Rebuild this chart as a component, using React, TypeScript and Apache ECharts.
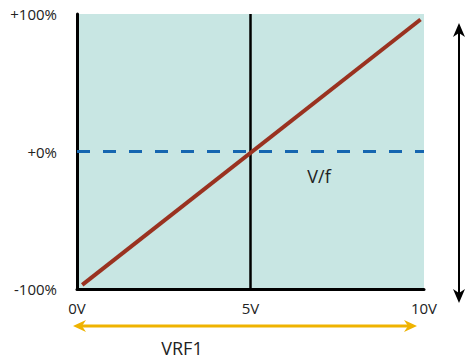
import React, { useEffect, useRef } from "react";
import * as echarts from "echarts";

const xTicks = [0, 5, 10];
const yTicks = [-100, 0, 100];
const vfLine: [number, number][] = [
  [0.15, -97],
  [9.9, 96],
];
const midVoltage = 5;
const baseline = 0;

const FONT = "'Open Sans', 'Noto Sans', sans-serif";

export default function App() {
  const ref = useRef<HTMLDivElement>(null);
  useEffect(() => {
    if (!ref.current) return;
    const chart = echarts.init(ref.current, null, { renderer: "svg" });
    chart.setOption({
      animation: false,
      grid: {
        left: 77,
        right: 43,
        top: 14,
        bottom: 72,
        show: true,
        backgroundColor: "#c8e6e3",
        borderWidth: 0,
      },
      xAxis: {
        type: "value",
        min: xTicks[0],
        max: xTicks[xTicks.length - 1],
        interval: 5,
        axisLine: { show: true, onZero: false, lineStyle: { color: "#000", width: 3 } },
        axisTick: { show: false },
        splitLine: { show: false },
        axisLabel: {
          margin: 11,
          fontSize: 15,
          fontFamily: FONT,
          color: "#222",
          formatter: (v: number) => `${v}V`,
        },
      },
      yAxis: {
        type: "value",
        min: yTicks[0],
        max: yTicks[yTicks.length - 1],
        interval: 100,
        axisLine: { show: true, onZero: false, lineStyle: { color: "#000", width: 3 } },
        axisTick: { show: false },
        splitLine: { show: false },
        axisLabel: {
          margin: 20,
          fontSize: 15,
          fontFamily: FONT,
          color: "#222",
          formatter: (v: number) => (v >= 0 ? `+${v}%` : `${v}%`),
        },
      },
      series: [
        {
          type: "line",
          data: vfLine,
          symbol: "none",
          lineStyle: { color: "#9a3220", width: 4 },
          z: 5,
          markLine: {
            silent: true,
            symbol: "none",
            label: { show: false },
            data: [
              {
                xAxis: midVoltage,
                lineStyle: { color: "#000", width: 2.5, type: "solid" },
              },
              {
                yAxis: baseline,
                lineStyle: { color: "#1566b0", width: 3, type: [13, 13] },
              },
            ],
          },
        },
      ],
      graphic: [
        {
          type: "text",
          x: 319,
          y: 176,
          style: {
            text: "V/f",
            fontSize: 18,
            fontFamily: FONT,
            fill: "#222",
            align: "center",
            verticalAlign: "middle",
          },
        },
        {
          type: "text",
          x: 182,
          y: 348,
          style: {
            text: "VRF1",
            fontSize: 18,
            fontFamily: FONT,
            fill: "#222",
            align: "center",
            verticalAlign: "middle",
          },
        },
        // yellow double arrow
        {
          type: "line",
          shape: { x1: 80, y1: 326, x2: 410, y2: 326 },
          style: { stroke: "#efb300", lineWidth: 3 },
        },
        {
          type: "polygon",
          shape: { points: [[73, 326], [86, 320], [82, 326], [86, 332]] },
          style: { fill: "#efb300" },
        },
        {
          type: "polygon",
          shape: { points: [[417, 326], [404, 320], [408, 326], [404, 332]] },
          style: { fill: "#efb300" },
        },
        // black double vertical arrow
        {
          type: "line",
          shape: { x1: 459, y1: 30, x2: 459, y2: 296 },
          style: { stroke: "#000", lineWidth: 2 },
        },
        {
          type: "polygon",
          shape: { points: [[459, 23], [453, 37], [459, 33], [465, 37]] },
          style: { fill: "#000" },
        },
        {
          type: "polygon",
          shape: { points: [[459, 303], [453, 289], [459, 293], [465, 289]] },
          style: { fill: "#000" },
        },
      ],
    });
    return () => chart.dispose();
  }, []);
  return <div ref={ref} style={{ width: 467, height: 361, position: "absolute", left: 0, top: 0 }} />;
}
